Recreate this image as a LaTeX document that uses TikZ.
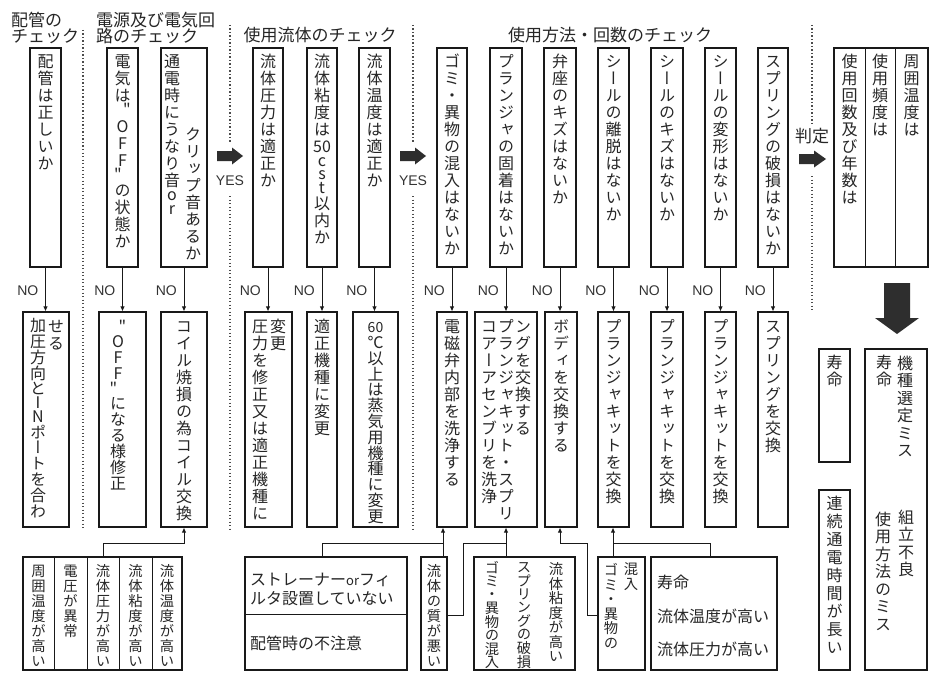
\documentclass[tikz,border=0pt]{standalone}
\usepackage{fontspec}
\newfontfamily\jp{Noto Sans CJK JP}
\newfontfamily\jpv[RawFeature=+vert]{Noto Sans CJK JP}
\newfontfamily\lat{Liberation Sans}
\usetikzlibrary{arrows.meta,fit}
\newdimen\vtp
\def\vtstop{\vtstop}
\def\vtl#1{\ifx\vtstop#1\else\hbox to 22pt{\hss#1\vrule height .86\vtp depth .14\vtp width 0pt\hss}\expandafter\vtl\fi}
\newcommand\vt[2][17]{\vbox{\offinterlineskip\vtp=#1pt\relax\vtl#2\vtstop}}
\def\sm{\vtp=13.5pt }
\def\tcy{\fontsize{14}{14}\selectfont}
\def\qr{\vtp=10pt\kern9pt"}
\def\ql{\vtp=10pt\kern-9pt"}
\begin{document}
\begin{tikzpicture}[x=1pt,y=-1pt,
  box/.style={draw=black!90, line width=1.1pt, inner sep=0pt},
  vtxt/.style={inner sep=0pt, anchor=north, text=black!85, font=\jpv\fontsize{16}{17}\selectfont},
  vsm/.style={vtxt, font=\jpv\fontsize{14.3}{15}\selectfont},
  htxt/.style={inner sep=0pt, text=black!85, font=\jp\fontsize{17}{20}\selectfont},
  hsm/.style={htxt, anchor=west, font=\jp\fontsize{16}{18}\selectfont},
  nolab/.style={inner sep=0pt, anchor=east, font=\lat\fontsize{14}{14}\selectfont, text=black!80},
  arr/.style={-{Latex[length=5pt,width=4.5pt]}, line width=0.9pt, black!90},
  con/.style={line width=0.9pt, black!90},
  sep/.style={line width=1.3pt, dash pattern=on 1.3pt off 2.2pt, black!70},
  blk/.style={fill=black!82}]
\fill[white] (0,0) rectangle (941,674);
\path[use as bounding box] (0,0) rectangle (941,674);

% headers
\node[htxt, anchor=west] (h1a) at (11,20) {配管の};
\node[htxt, anchor=west] (h1b) at (11,36) {チェック};
\node[htxt, anchor=west] (h2a) at (96,20) {電源及び電気回};
\node[htxt, anchor=west] (h2b) at (96,36) {路のチェック};
\node[htxt] (h3) at (320,35) {使用流体のチェック};
\node[htxt] (h4) at (610,35) {使用方法・回数のチェック};
\node[htxt] (h5) at (812,136) {判定};

% separators
\draw[sep] (83,30) -- (83,530);
\draw[sep] (230,25) -- (230,142); \draw[sep] (230,196) -- (230,530);
\draw[sep] (413,25) -- (413,142); \draw[sep] (413,196) -- (413,530);
\draw[sep] (812,25) -- (812,124); \draw[sep] (812,176) -- (812,312);

% block arrows
\fill[blk] (217,151) -- (232,151) -- (232,147.5) -- (243,156) -- (232,164.5) -- (232,161) -- (217,161) -- cycle;
\fill[blk] (400,151) -- (415,151) -- (415,147.5) -- (426,156) -- (415,164.5) -- (415,161) -- (400,161) -- cycle;
\fill[blk] (799,154) -- (814,154) -- (814,150.5) -- (826,159) -- (814,167.5) -- (814,164) -- (799,164) -- cycle;
\fill[blk] (884,283) -- (910,283) -- (910,318) -- (919,318) -- (897,334) -- (875,318) -- (884,318) -- cycle;
\node[nolab, anchor=center] (yes1) at (230,181) {YES};
\node[nolab, anchor=center] (yes2) at (413,181) {YES};

% row 1 boxes
\node[box, fit={(30,48) (61,267)}] (b1) {};
\node[box, fit={(107,48) (138,267)}] (b2) {};
\node[box, fit={(161,48) (207,267)}] (b3) {};
\node[box, fit={(253,48) (283,267)}] (b4) {};
\node[box, fit={(307,48) (337,267)}] (b5) {};
\node[box, fit={(359,48) (390,267)}] (b6) {};
\node[box, fit={(437,48) (467,267)}] (b7) {};
\node[box, fit={(490,48) (522,267)}] (b8) {};
\node[box, fit={(544,48) (576,267)}] (b9) {};
\node[box, fit={(598,48) (629,267)}] (b10) {};
\node[box, fit={(651,48) (683,267)}] (b11) {};
\node[box, fit={(705,48) (736,267)}] (b12) {};
\node[box, fit={(758,48) (788,267)}] (b13) {};
\node[box, line width=2.4pt, fit={(834,48) (928,267)}] (B) {};
\draw[con] (865,48) -- (865,267);
\draw[con] (895,48) -- (895,267);

\node[vtxt] (tb1) at ([yshift=-5pt]b1.north) {\vt{配管は正しいか}};
\node[vtxt] (tb2) at ([yshift=-5pt]b2.north) {\vt{電気は\qr OFF\ql の状態か}};
\node[vtxt] (tb3a) at (172,53) {\vt{通電時にうなり音{\sm o}{\sm r}}};
\node[vtxt] (tb3b) at (193,126) {\vt{クリップ音あるか}};
\node[vtxt] (tb4) at ([yshift=-5pt]b4.north) {\vt{流体圧力は適正か}};
\node[vtxt] (tb5) at ([yshift=-5pt]b5.north) {\vt{流体粘度は{50}{\sm c}{\sm s}{\sm t}以内か}};
\node[vtxt] (tb6) at ([yshift=-5pt]b6.north) {\vt{流体温度は適正か}};
\node[vtxt] (tb7) at ([yshift=-5pt]b7.north) {\vt{ゴミ・異物の混入はないか}};
\node[vtxt] (tb8) at ([yshift=-5pt]b8.north) {\vt{プランジャの固着はないか}};
\node[vtxt] (tb9) at ([yshift=-5pt]b9.north) {\vt{弁座のキズはないか}};
\node[vtxt] (tb10) at ([yshift=-5pt]b10.north) {\vt{シールの離脱はないか}};
\node[vtxt] (tb11) at ([yshift=-5pt]b11.north) {\vt{シールのキズはないか}};
\node[vtxt] (tb12) at ([yshift=-5pt]b12.north) {\vt{シールの変形はないか}};
\node[vtxt] (tb13) at ([yshift=-5pt]b13.north) {\vt{スプリングの破損はないか}};
\node[vtxt] (tBa) at (849.5,53) {\vt{使用回数及び年数は}};
\node[vtxt] (tBb) at (880,53) {\vt{使用頻度は}};
\node[vtxt] (tBc) at (911.5,53) {\vt{周囲温度は}};

% row 2 boxes
\node[box, fit={(23,312) (69,527)}] (r1) {};
\node[box, fit={(99,312) (146,527)}] (r2) {};
\node[box, fit={(161,312) (207,527)}] (r3) {};
\node[box, fit={(245,312) (292,527)}] (r4) {};
\node[box, fit={(307,312) (337,527)}] (r5) {};
\node[box, fit={(353,312) (398,527)}] (r6) {};
\node[box, fit={(437,312) (467,527)}] (r7) {};
\node[box, fit={(475,312) (537,527)}] (r8) {};
\node[box, fit={(545,312) (577,527)}] (r9) {};
\node[box, fit={(598,312) (629,527)}] (r10) {};
\node[box, fit={(651,312) (683,527)}] (r11) {};
\node[box, fit={(705,312) (736,527)}] (r12) {};
\node[box, fit={(758,312) (788,527)}] (r13) {};

\node[vtxt] (tr1a) at (38,318) {\vt[15.8]{加圧方向と{\sm I}{\sm N}ポートを合わ}};
\node[vtxt] (tr1b) at (56,318) {\vt{せる}};
\node[vtxt] (tr2) at (118,320) {\vt[16]{\qr OFF\ql になる様修正}};
\node[vtxt] (tr3) at ([yshift=-6pt]r3.north) {\vt{コイル焼損の為コイル交換}};
\node[vtxt] (tr4a) at (260,318) {\vt{圧力を修正又は適正機種に}};
\node[vtxt] (tr4b) at (278,318) {\vt{変更}};
\node[vtxt] (tr5) at ([yshift=-6pt]r5.north) {\vt{適正機種に変更}};
\node[vtxt] (tr6) at (375.5,319) {\vt[15.8]{{\tcy 60}℃以上は蒸気用機種に変更}};
\node[vtxt] (tr7) at ([yshift=-6pt]r7.north) {\vt{電磁弁内部を洗浄する}};
\node[vtxt] (tr8a) at (489,318) {\vt{コアーアセンブリを洗浄}};
\node[vtxt] (tr8b) at (506,318) {\vt{プランジャキット・スプリ}};
\node[vtxt] (tr8c) at (523,318) {\vt{ングを交換する}};
\node[vtxt] (tr9) at ([yshift=-6pt]r9.north) {\vt{ボディを交換する}};
\node[vtxt] (tr10) at ([yshift=-6pt]r10.north) {\vt{プランジャキットを交換}};
\node[vtxt] (tr11) at ([yshift=-6pt]r11.north) {\vt{プランジャキットを交換}};
\node[vtxt] (tr12) at ([yshift=-6pt]r12.north) {\vt{プランジャキットを交換}};
\node[vtxt] (tr13) at ([yshift=-6pt]r13.north) {\vt{スプリングを交換}};

% NO arrows
\foreach \i in {1,...,13}{
  \draw[arr] (b\i.south) -- (b\i.south |- r\i.north);
  \node[nolab] (no\i) at ([shift={(-7,23)}]b\i.south) {NO};
}

% bottom boxes
\node[box, fit={(23,557) (182,670)}] (g1) {};
\draw[con] (54,557) -- (54,670);
\draw[con] (87,557) -- (87,670);
\draw[con] (119,557) -- (119,670);
\draw[con] (152,557) -- (152,670);
\node[vsm] (tg1) at (38.5,563) {\vt[15]{周囲温度が高い}};
\node[vsm] (tg2) at (70.5,563) {\vt[15]{電圧が異常}};
\node[vsm] (tg3) at (103,563) {\vt[15]{流体圧力が高い}};
\node[vsm] (tg4) at (135.5,563) {\vt[15]{流体粘度が高い}};
\node[vsm] (tg5) at (167,563) {\vt[15]{流体温度が高い}};

\node[box, fit={(245,557) (407,670)}] (s) {};
\draw[con] (245,614) -- (407,614);
\node[hsm] (ts1) at (250,580) {ストレーナー{\fontsize{13}{13}\selectfont or}フィ};
\node[hsm] (ts2) at (250,599) {ルタ設置していない};
\node[hsm] (ts3) at (250,643) {配管時の不注意};

\node[box, fit={(421,557) (447,670)}] (q) {};
\node[vsm] (tq) at (434,563) {\vt[15]{流体の質が悪い}};

\node[box, fit={(474,557) (575,670)}] (t) {};
\node[vsm] (tt1) at (492,561) {\vt[13.3]{ゴミ・異物の混入}};
\node[vsm] (tt2) at (524,561) {\vt[13.3]{スプリングの破損}};
\node[vsm] (tt3) at (556,562) {\vt[14.5]{流体粘度が高い}};

\node[box, fit={(598,557) (645,670)}] (m) {};
\node[vsm] (tm1) at (611,563) {\vt[14.5]{ゴミ・異物の}};
\node[vsm] (tm2) at (631,562) {\vt[14.5]{混入}};

\node[box, fit={(651,557) (777,670)}] (L) {};
\node[hsm] (tL1) at (657,582) {寿命};
\node[hsm] (tL2) at (657,616) {流体温度が高い};
\node[hsm] (tL3) at (657,649) {流体圧力が高い};

% bottom connectors
\coordinate (jA) at (103,543);
\draw[arr] (g1.north -| jA) -- (jA) -| (r3.south);
\coordinate (jB) at (322,543);
\coordinate (jC) at (443,543);
\draw[con] (s.north -| jB) -- (jB) -- (jC);
\draw[arr] (q.north -| jC) -- (jC |- r7.south);
\coordinate (jD) at (463,615);
\coordinate (jE) at (506,543);
\draw[con] (q.east |- jD) -- (jD) |- (jE);
\draw[arr] (t.north -| jE) -- (jE |- r8.south);
\coordinate (jF) at (587,615);
\coordinate (jG) at (560,543);
\draw[arr] (m.west |- jF) -- (jF) |- (jG) -- (jG |- r9.south);
\coordinate (jH) at (613,543);
\coordinate (jI) at (710,543);
\draw[arr] (m.north -| jH) -- (jH |- r10.south);
\draw[con] (L.north -| jI) -- (jI) -- (jH);

% right result boxes
\node[box, fit={(819,349) (850,462)}] (k1) {};
\node[box, fit={(819,490) (850,670)}] (k2) {};
\node[box, fit={(865,349) (927,670)}] (k3) {};
\node[vtxt] (tk1) at (834.5,354) {\vt{寿命}};
\node[vtxt] (tk2) at (834.5,494) {\vt[18]{連続通電時間が長い}};
\node[vtxt] (tk3a) at (905,354) {\vt[17.5]{機種選定ミス}};
\node[vtxt] (tk3b) at (884,354) {\vt{寿命}};
\node[vtxt] (tk3c) at (906,508) {\vt[17.5]{組立不良}};
\node[vtxt] (tk3d) at (883,510) {\vt[17.5]{使用方法のミス}};
\end{tikzpicture}
\end{document}
